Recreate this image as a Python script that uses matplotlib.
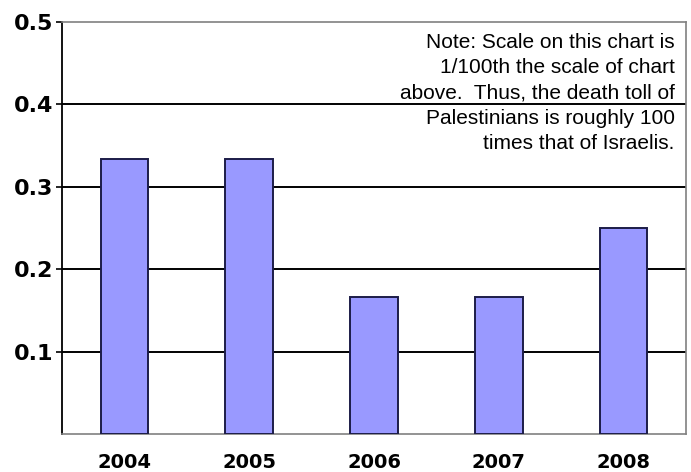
import matplotlib.pyplot as plt
import numpy as np

years = ['2004', '2005', '2006', '2007', '2008']
values = [1/3, 1/3, 1/6, 1/6, 0.25]
yticks = [0.1, 0.2, 0.3, 0.4, 0.5]
note = ("Note: Scale on this chart is\n"
        "1/100th the scale of chart\n"
        "above.  Thus, the death toll of\n"
        "Palestinians is roughly 100\n"
        "times that of Israelis.")

fig = plt.figure(figsize=(6.91, 4.72), dpi=100)
ax = fig.add_axes([0.0897, 0.0805, 0.9031, 0.8729])

x = np.arange(len(years))
ax.bar(x, values, width=0.38, color='#9999ff', edgecolor='#1c1c48',
       linewidth=1.4, zorder=3)

for t in yticks[:-1]:
    ax.axhline(t, color='black', lw=1.4, zorder=1)

ax.set_xlim(-0.5, len(years) - 0.5)
ax.set_ylim(0, 0.5)
ax.set_yticks(yticks)
ax.set_yticklabels([f'{t:.1f}' for t in yticks])
ax.set_xticks(x)
ax.set_xticklabels(years)

for lab in ax.get_yticklabels():
    lab.set_fontweight('bold')
    lab.set_fontsize(16)
for lab in ax.get_xticklabels():
    lab.set_fontweight('bold')
    lab.set_fontsize(14)

ax.tick_params(axis='y', length=4, width=1.2, pad=2, color='black')
ax.tick_params(axis='x', length=0, pad=13.5)

ax.spines['left'].set_color('black')
ax.spines['left'].set_linewidth(1.3)
for s in ['top', 'right', 'bottom']:
    ax.spines[s].set_color('#808080')
    ax.spines[s].set_linewidth(1.2)

ax.text(0.982, 0.974, note, transform=ax.transAxes, ha='right', va='top',
        family='Liberation Sans', fontsize=15, linespacing=1.42, zorder=4)

fig.savefig('out.png', dpi=100)
